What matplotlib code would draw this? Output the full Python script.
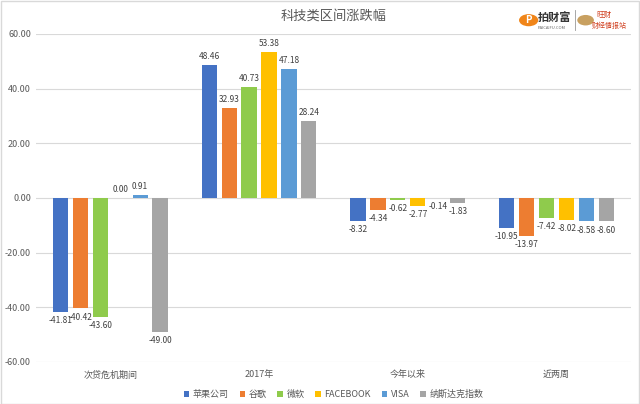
import matplotlib.pyplot as plt
import numpy as np
from matplotlib.patches import Rectangle, Circle

plt.rcParams['font.family'] = ['Noto Sans CJK SC', 'DejaVu Sans']

# data
categories = ['次贷危机期间', '2017年', '今年以来', '近两周']
series = ['苹果公司', '谷歌', '微软', 'FACEBOOK', 'VISA', '纳斯达克指数']
apple = [-41.81, 48.46, -8.32, -10.95]
google = [-40.42, 32.93, -4.34, -13.97]
microsoft = [-43.60, 40.73, -0.62, -7.42]
facebook = [0.00, 53.38, -2.77, -8.02]
visa = [0.91, 47.18, -0.14, -8.58]
nasdaq = [-49.00, 28.24, -1.83, -8.60]
colors = ['#4472C4', '#ED7D31', '#8FCB4C', '#FFC000', '#5B9BD5', '#A5A5A5']

values = [apple, google, microsoft, facebook, visa, nasdaq]

fig = plt.figure(figsize=(6.4, 4.04), dpi=100)
ax = fig.add_axes([0.056, 0.104, 0.93, 0.812])

x = np.arange(len(categories))
step = 0.134
width = 0.102
for i, (name, vals, c) in enumerate(zip(series, values, colors)):
    pos = x + (i - 2.5) * step
    ax.bar(pos, vals, width, color=c, label=name, zorder=2)
    for p, v in zip(pos, vals):
        if v >= 0:
            ax.text(p, v + 1.5, f'{v:.2f}', ha='center', va='bottom',
                    fontsize=6, color='#404040')
        else:
            ax.text(p, v - 1.5, f'{v:.2f}', ha='center', va='top',
                    fontsize=6, color='#404040')

ax.set_xlim(-0.5, 3.5)
ax.set_ylim(-60, 60)
ax.set_yticks(np.arange(-60, 61, 20))
ax.set_yticklabels([f'{t:.2f}' for t in np.arange(-60, 61, 20)])
ax.set_xticks(x)
ax.set_xticklabels(categories)
ax.tick_params(axis='both', length=0, labelsize=6.5, colors='#595959')
ax.tick_params(axis='x', pad=6)
ax.grid(axis='y', color='#D9D9D9', linewidth=0.8, zorder=0)
for s in ax.spines.values():
    s.set_visible(False)

ax.set_title('科技类区间涨跌幅', fontsize=9.5, color='#595959', pad=10)

leg = ax.legend(loc='upper center', bbox_to_anchor=(0.5, -0.06), ncol=6,
                frameon=False, fontsize=6.5, handlelength=0.6, handleheight=0.6,
                handletextpad=0.4, columnspacing=1.2)
for t in leg.get_texts():
    t.set_color('#595959')

# logo in the top right corner
fig.patches.append(Circle((0.826, 0.95), 0.015, transform=fig.transFigure,
                          facecolor='#F08519', edgecolor='none'))
fig.text(0.826, 0.95, 'P', fontsize=7, color='white', ha='center', va='center',
         weight='bold')
fig.text(0.840, 0.957, '拍财富', fontsize=8, color='#333333', ha='left', va='center',
         weight='bold')
fig.text(0.840, 0.93, 'PAICAIFU.COM', fontsize=3, color='#666666', ha='left',
         va='center')
fig.lines.append(plt.Line2D([0.898, 0.898], [0.925, 0.975], transform=fig.transFigure,
                            color='#999999', linewidth=0.6))
fig.patches.append(Circle((0.915, 0.95), 0.013, transform=fig.transFigure,
                          facecolor='#C8A060', edgecolor='none'))
fig.text(0.932, 0.962, '旺财', fontsize=5.5, color='#D04020', ha='left', va='center')
fig.text(0.925, 0.935, '财经情报站', fontsize=5, color='#D04020', ha='left', va='center')

fig.patches.append(Rectangle((0.001, 0.001), 0.997, 0.997, transform=fig.transFigure,
                             fill=False, edgecolor='#D9D9D9', linewidth=1))

fig.savefig('out.png', dpi=100)
